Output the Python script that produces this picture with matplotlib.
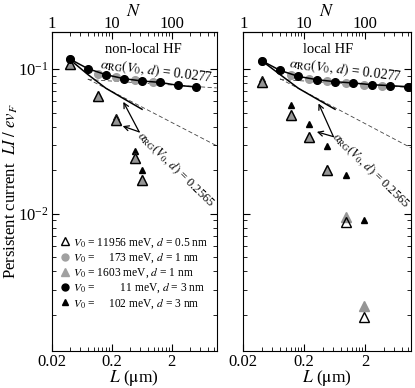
import matplotlib
matplotlib.use("Agg")
import matplotlib.pyplot as plt
from matplotlib.lines import Line2D
from matplotlib.ticker import LogLocator, FixedLocator, FuncFormatter, NullFormatter

plt.rcParams['font.family'] = ['Liberation Serif', 'DejaVu Serif']
plt.rcParams['mathtext.fontset'] = 'stix'

# N = number of electrons, L = 0.02 um * N
L_PER_N = 0.02
N_major = [1, 10, 100]

# ---- non-local HF panel ----
N_blk_circ_l = [2, 4, 8, 16, 32, 64, 128, 256]
I_blk_circ_l = [0.1172, 0.1005, 0.0913, 0.0857, 0.0826, 0.0808, 0.0770, 0.0751]
N_gry_circ_l = [2, 6, 12, 24, 48]
I_gry_circ_l = [0.1165, 0.0928, 0.0878, 0.0844, 0.0813]
N_tri_l = [2, 6, 12, 24, 32]
I_open_tri_l = [0.1083, 0.0646, 0.0443, 0.0244, 0.0172]
I_gry_tri_l = [0.1083, 0.0646, 0.0443, 0.0244, 0.0172]
I_blk_tri_l = [0.1083, 0.0646, 0.0465, 0.0272, 0.0201]
N_curve = [2, 4, 8, 16, 32]
I_curve_l = [0.1163, 0.0916, 0.0736, 0.0622, 0.0527]
N_dash = [4, 560]
I_dash_small_l = [0.0846, 0.0740]
I_dash_large_l = [0.0853, 0.0295]

# ---- local HF panel ----
N_blk_circ_r = [2, 4, 8, 16, 32, 64, 128, 256, 512]
I_blk_circ_r = [0.1141, 0.0978, 0.0889, 0.0844, 0.0817, 0.0800, 0.0779, 0.0767, 0.0754]
N_gry_circ_r = [2, 6, 12, 24, 48, 96, 192]
I_gry_circ_r = [0.1135, 0.0913, 0.0857, 0.0821, 0.0800, 0.0779, 0.0767]
N_tri_r = [2, 6, 12, 24, 48, 96]
I_open_tri_r = [0.0811, 0.0483, 0.0337, 0.0201, 0.00885, 0.00193]
I_gry_tri_r = [0.0811, 0.0483, 0.0337, 0.0201, 0.00949, 0.00231]
I_blk_tri_r = [0.0857, 0.0560, 0.0417, 0.0296, 0.0186, 0.00909]
I_curve_r = [0.1141, 0.0916, 0.0736, 0.0622, 0.0527]
I_dash_small_r = [0.0846, 0.0745]
I_dash_large_r = [0.0857, 0.0286]

legend_labels = [
    r"$V_0$ = 11956 meV, $d$ = 0.5 nm",
    r"$V_0$ =     173 meV, $d$ = 1 nm",
    r"$V_0$ = 1603 meV, $d$ = 1 nm",
    r"$V_0$ =         11 meV, $d$ = 3 nm",
    r"$V_0$ =     102 meV, $d$ = 3 nm",
]

GRAY = "#a0a0a0"
GRAY_TRI = "#959595"
alpha_txt = r"$\alpha_{\rm RG}(V_0,\, d)$ = "

fig = plt.figure(figsize=(4.15, 3.88), dpi=100)
ax_l = fig.add_axes([51.7 / 415, 1 - 351 / 388, 165 / 415, 319 / 388])
ax_r = fig.add_axes([243.3 / 415, 1 - 351 / 388, 167.5 / 415, 319 / 388])


def draw_panel(ax, nb, ib, ng, ig, nt, io, igt, ibt, icurve, ids, idl):
    ax.plot(N_dash, ids, '--', color='#444444', lw=0.6, dashes=(5, 3), zorder=1)
    ax.plot(N_dash, idl, '--', color='#444444', lw=0.6, dashes=(5, 3), zorder=1)
    ax.plot(N_curve, icurve, '-', color='black', lw=1.1, zorder=2)
    ax.plot(nt, ibt, '^', color='black', ms=5, zorder=3)
    ax.plot(nt, igt, '^', color=GRAY_TRI, mec=GRAY_TRI, ms=6.5, zorder=4)
    ax.plot(nt, io, '^', mfc='none', mec='black', mew=1.0, ms=7, zorder=5)
    ax.plot(ng, ig, 'o', color=GRAY, ms=5.5, zorder=4)
    ax.plot(nb, ib, '-o', color='black', lw=1.1, ms=5.5, zorder=5)

    ax.set_xscale('log')
    ax.set_yscale('log')
    ax.set_xlim(1, 560)
    ax.set_ylim(1.13e-3, 0.18)
    ax.xaxis.set_major_locator(FixedLocator(N_major))
    ax.xaxis.set_minor_locator(LogLocator(base=10, subs=range(2, 10)))
    ax.xaxis.set_major_formatter(FuncFormatter(lambda v, p: f"{v * L_PER_N:g}"))
    ax.xaxis.set_minor_formatter(NullFormatter())
    ax.tick_params(which='both', direction='in', right=True, labelsize=12)
    ax.tick_params(which='major', length=5, width=0.8)
    ax.tick_params(which='minor', length=3, width=0.6)
    ax.tick_params(axis='x', pad=2.5)
    ax.tick_params(axis='y', pad=2)
    ax.set_xlabel(r"$L$ ($\mathrm{\mu}$m)", fontsize=12.5, labelpad=-1.5)
    for s in ax.spines.values():
        s.set_linewidth(0.8)

    top = ax.secondary_xaxis('top')
    top.xaxis.set_major_locator(FixedLocator(N_major))
    top.xaxis.set_minor_locator(LogLocator(base=10, subs=range(2, 10)))
    top.xaxis.set_major_formatter(FuncFormatter(lambda v, p: f"{v:g}"))
    top.xaxis.set_minor_formatter(NullFormatter())
    top.tick_params(which='both', direction='in', labelsize=12, pad=0)
    top.tick_params(which='major', length=5, width=0.8)
    top.tick_params(which='minor', length=3, width=0.6)
    top.set_xlabel(r"$N$", fontsize=13, labelpad=0)


draw_panel(ax_l, N_blk_circ_l, I_blk_circ_l, N_gry_circ_l, I_gry_circ_l, N_tri_l,
           I_open_tri_l, I_gry_tri_l, I_blk_tri_l, I_curve_l, I_dash_small_l, I_dash_large_l)
draw_panel(ax_r, N_blk_circ_r, I_blk_circ_r, N_gry_circ_r, I_gry_circ_r, N_tri_r,
           I_open_tri_r, I_gry_tri_r, I_blk_tri_r, I_curve_r, I_dash_small_r, I_dash_large_r)
ax_r.tick_params(labelleft=False)

# panel titles, RG exponents and arrows (axes-fraction positions)
panel_text = [
    (ax_l, "non-local HF", (0.554, 0.944), (0.633, 0.878), (0.755, 0.570),
     (0.530, 0.687), (0.434, 0.781), (0.430, 0.705)),
    (ax_r, "local HF", (0.507, 0.946), (0.608, 0.880), (0.762, 0.566),
     (0.538, 0.672), (0.449, 0.776), (0.439, 0.687)),
]
for ax, title, tpos, t1, t2, tail, h1, h2 in panel_text:
    ax.text(*tpos, title, transform=ax.transAxes, ha='center', va='center', fontsize=10.5)
    ax.text(*t1, alpha_txt + "0.0277", transform=ax.transAxes, ha='center', va='center',
            fontsize=10, rotation=-7, rotation_mode='anchor')
    ax.text(*t2, alpha_txt + "0.2565", transform=ax.transAxes, ha='center', va='center',
            fontsize=9, rotation=-44, rotation_mode='anchor')
    for h in (h1, h2):
        ax.annotate("", xy=h, xytext=tail, xycoords='axes fraction', textcoords='axes fraction',
                    arrowprops=dict(arrowstyle='->', color='black', lw=0.9,
                                    shrinkA=0, shrinkB=0, mutation_scale=9))

# legend
handles = [
    Line2D([], [], ls='none', marker='^', mfc='white', mec='black', mew=1.0, ms=6),
    Line2D([], [], ls='none', marker='o', color=GRAY, ms=5),
    Line2D([], [], ls='none', marker='^', color=GRAY, ms=5.5),
    Line2D([], [], ls='none', marker='o', color='black', ms=5),
    Line2D([], [], ls='none', marker='^', color='black', ms=5),
]
ax_l.legend(handles, legend_labels, loc='upper left', bbox_to_anchor=(0.06, 0.36),
            frameon=False, fontsize=8.3, handlelength=0.6, handletextpad=0.4,
            labelspacing=0.15, borderpad=0, borderaxespad=0)

fig.text(11 / 415, 1 - 191 / 388, r"Persistent current  $LI\ /\ ev_F$", rotation=90,
         ha='center', va='center', fontsize=12)

fig.savefig("out.png", dpi=100)
